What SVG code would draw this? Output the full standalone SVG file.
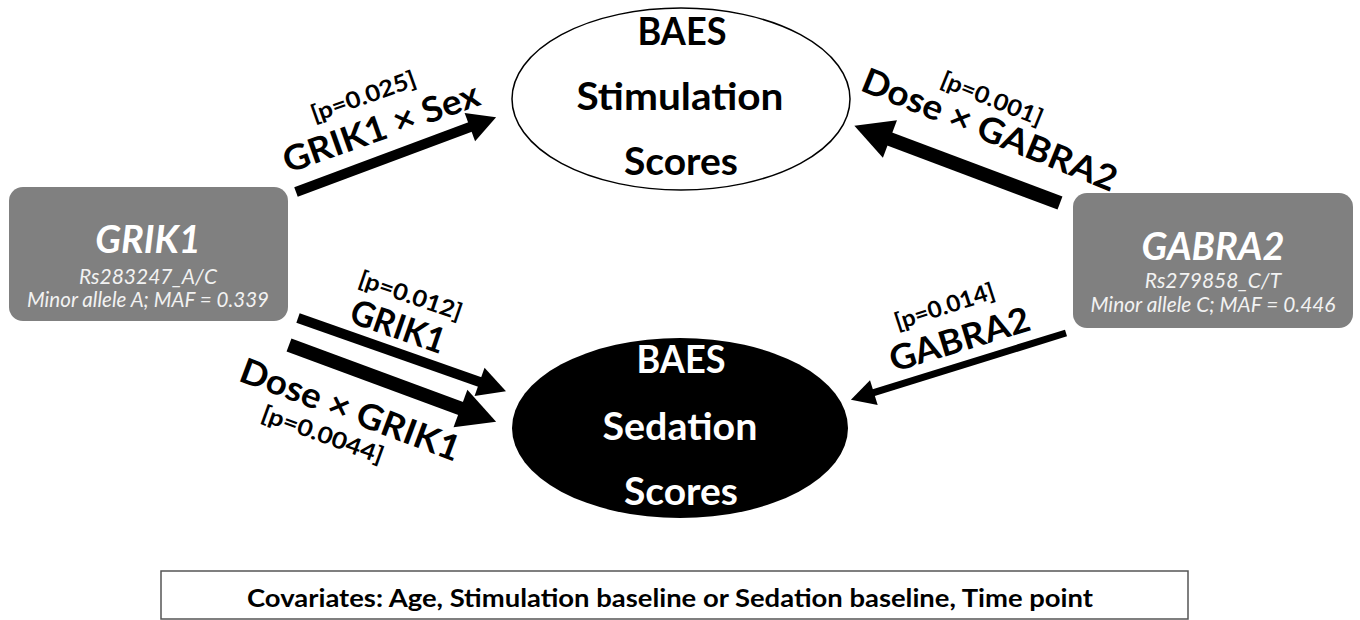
<svg xmlns="http://www.w3.org/2000/svg" width="1360" height="620" viewBox="0 0 1360 620">
<style>
  text { font-family: Lato, "Open Sans", "Liberation Sans", sans-serif; }
  .box { fill: #808080; }
  .title { font-size: 38px; font-weight: 700; font-style: italic; fill: #ffffff; text-anchor: middle; }
  .sub { font-size: 21px; font-style: italic; fill: #f2f2f2; text-anchor: middle; }
  .ell { font-size: 38px; font-weight: 700; text-anchor: middle; }
  .lbl { font-size: 35px; font-weight: 700; text-anchor: middle; fill: #000; }
  .pv { font-size: 23px; font-weight: 700; text-anchor: middle; fill: #000; }
  .shaft { stroke: #000; fill: none; stroke-linecap: butt; }
  .cov { font-size: 25px; font-weight: 700; text-anchor: middle; fill: #000; }
</style>
<defs>
  <marker id="head-l" markerUnits="userSpaceOnUse" orient="auto" refX="1" refY="0" markerWidth="40" markerHeight="40" overflow="visible">
    <path d="M0,-20 L38,0 L0,20 Z" fill="#000"/>
  </marker>
  <marker id="head-m" markerUnits="userSpaceOnUse" orient="auto" refX="1" refY="0" markerWidth="30" markerHeight="30" overflow="visible">
    <path d="M0,-15 L28,0 L0,15 Z" fill="#000"/>
  </marker>
  <marker id="head-s" markerUnits="userSpaceOnUse" orient="auto" refX="1" refY="0" markerWidth="26" markerHeight="26" overflow="visible">
    <path d="M0,-13 L24,0 L0,13 Z" fill="#000"/>
  </marker>
</defs>
<rect width="1360" height="620" fill="#ffffff"/>

<g id="connectors">
  <line class="shaft" x1="296" y1="192" x2="470.8" y2="126.8" stroke-width="10" marker-end="url(#head-m)"/>
  <line class="shaft" x1="1060" y1="203" x2="889" y2="138.7" stroke-width="14" marker-end="url(#head-l)"/>
  <line class="shaft" x1="298" y1="318" x2="480.5" y2="382.3" stroke-width="10" marker-end="url(#head-m)"/>
  <line class="shaft" x1="289" y1="345" x2="461.4" y2="408.8" stroke-width="14" marker-end="url(#head-l)"/>
  <line class="shaft" x1="1066" y1="333" x2="872.9" y2="392.9" stroke-width="7" marker-end="url(#head-s)"/>
</g>

<g id="labels">
  <text class="lbl" transform="translate(385,139) rotate(-19.5)" textLength="206" lengthAdjust="spacingAndGlyphs">GRIK1 × Sex</text>
  <text class="pv" transform="translate(366,104) rotate(-19.5)" textLength="110" lengthAdjust="spacingAndGlyphs">[p=0.025]</text>
  <text class="lbl" transform="translate(985,141) rotate(22)" textLength="272" lengthAdjust="spacingAndGlyphs">Dose × GABRA2</text>
  <text class="pv" transform="translate(989,106) rotate(22)" textLength="108" lengthAdjust="spacingAndGlyphs">[p=0.001]</text>
  <text class="pv" transform="translate(408,303) rotate(19)" textLength="108" lengthAdjust="spacingAndGlyphs">[p=0.012]</text>
  <text class="lbl" transform="translate(394,338) rotate(19)" textLength="98" lengthAdjust="spacingAndGlyphs">GRIK1</text>
  <text class="lbl" transform="translate(346,421) rotate(20.5)" textLength="232" lengthAdjust="spacingAndGlyphs">Dose × GRIK1</text>
  <text class="pv" transform="translate(320,442) rotate(20)" textLength="128" lengthAdjust="spacingAndGlyphs">[p=0.0044]</text>
  <text class="pv" transform="translate(947,314) rotate(-18)" textLength="104" lengthAdjust="spacingAndGlyphs">[p=0.014]</text>
  <text class="lbl" transform="translate(963,351) rotate(-17)" textLength="145" lengthAdjust="spacingAndGlyphs">GABRA2</text>
</g>

<g id="node-grik1">
  <rect class="box" x="9" y="187" width="279" height="134" rx="14"/>
  <text class="title" x="148" y="253">GRIK1</text>
  <text class="sub" x="148" y="284">Rs283247_A/C</text>
  <text class="sub" x="148" y="307" textLength="242" lengthAdjust="spacingAndGlyphs">Minor allele A; MAF = 0.339</text>
</g>

<g id="node-gabra2">
  <rect class="box" x="1073" y="193" width="280" height="135" rx="14"/>
  <text class="title" x="1213" y="260">GABRA2</text>
  <text class="sub" x="1213" y="288">Rs279858_C/T</text>
  <text class="sub" x="1213" y="312" textLength="245" lengthAdjust="spacingAndGlyphs">Minor allele C; MAF = 0.446</text>
</g>

<g id="node-stimulation">
  <ellipse cx="681" cy="99" rx="169" ry="91" fill="#ffffff" stroke="#000" stroke-width="1.5"/>
  <text class="ell" x="682" y="45" fill="#000" textLength="89" lengthAdjust="spacingAndGlyphs">BAES</text>
  <text class="ell" x="680" y="110" fill="#000" textLength="207" lengthAdjust="spacingAndGlyphs">Stimulation</text>
  <text class="ell" x="681" y="175" fill="#000" textLength="114" lengthAdjust="spacingAndGlyphs">Scores</text>
</g>

<g id="node-sedation">
  <ellipse cx="680" cy="428" rx="168" ry="90" fill="#000"/>
  <text class="ell" x="681" y="373" fill="#fff" textLength="89" lengthAdjust="spacingAndGlyphs">BAES</text>
  <text class="ell" x="680" y="440" fill="#fff" textLength="155" lengthAdjust="spacingAndGlyphs">Sedation</text>
  <text class="ell" x="681" y="505" fill="#fff" textLength="114" lengthAdjust="spacingAndGlyphs">Scores</text>
</g>

<g id="node-covariates">
  <rect x="161" y="571" width="1027" height="48" fill="#ffffff" stroke="#555" stroke-width="1.5"/>
  <text class="cov" x="670" y="607" textLength="846" lengthAdjust="spacingAndGlyphs">Covariates: Age, Stimulation baseline or Sedation baseline, Time point</text>
</g>
</svg>
